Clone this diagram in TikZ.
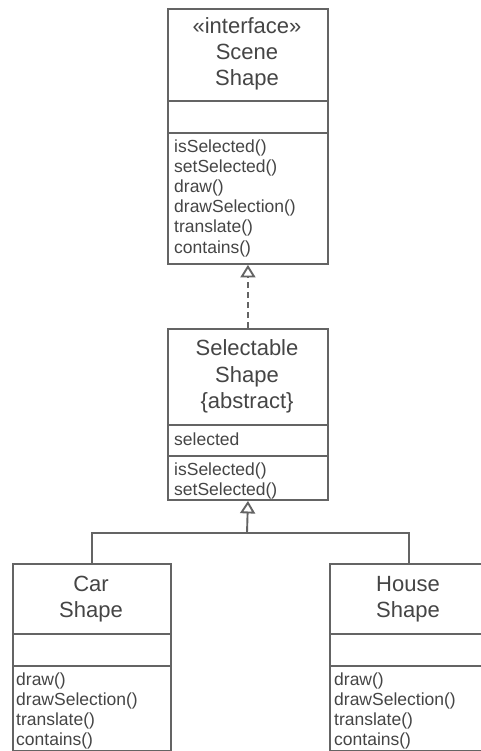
\documentclass[tikz,border=0pt]{standalone}
\usepackage{fontspec}
\setmainfont{Liberation Sans}
\usetikzlibrary{arrows.meta}
\definecolor{ln}{HTML}{646464}
\definecolor{tx}{HTML}{454545}
\begin{document}
\begin{tikzpicture}[x=1pt,y=-1pt,
  comp/.style={draw=ln, line width=1.9pt, rectangle, inner sep=0pt, anchor=north west},
  hd/.style={font=\fontsize{22}{26}\selectfont, text=tx, anchor=base, inner sep=0pt},
  mt/.style={font=\fontsize{17.5}{20}\selectfont, text=tx, anchor=base west, inner sep=0pt},
  conn/.style={draw=ln, line width=1.9pt},
  gen/.style={-{Triangle[open,length=12.5pt,width=15pt,line width=1.9pt]}}]
\clip (0,0) rectangle (481,751);
\fill[white] (0,0) rectangle (481,751);

% Scene Shape interface
\node[comp, minimum width=160pt, minimum height=92pt] (ih) at (167,8) {};
\node[comp, minimum width=160pt, minimum height=32pt] (ia) at (167,100) {};
\node[comp, minimum width=160pt, minimum height=131pt] (im) at (167,132) {};
\node[hd] (ih1) at (247,34) {«interface»};
\node[hd] (ih2) at (247,60) {Scene};
\node[hd] (ih3) at (247,86) {Shape};
\node[mt] (im1) at (174,153) {isSelected()};
\node[mt] (im2) at (174,173) {setSelected()};
\node[mt] (im3) at (174,193) {draw()};
\node[mt] (im4) at (174,213) {drawSelection()};
\node[mt] (im5) at (174,233) {translate()};
\node[mt] (im6) at (174,253) {contains()};

% Selectable Shape
\node[comp, minimum width=160pt, minimum height=96pt] (sh) at (167,328) {};
\node[comp, minimum width=160pt, minimum height=31pt] (sa) at (167,424) {};
\node[comp, minimum width=160pt, minimum height=44pt] (sm) at (167,455) {};
\node[hd] (sh1) at (247,355) {Selectable};
\node[hd] (sh2) at (247,382) {Shape};
\node[hd] (sh3) at (247,408) {\{abstract\}};
\node[mt] (sa1) at (174,445) {selected};
\node[mt] (sm1) at (174,475) {isSelected()};
\node[mt] (sm2) at (174,495) {setSelected()};

% Car Shape
\node[comp, minimum width=158pt, minimum height=70pt] (ch) at (12,563) {};
\node[comp, minimum width=158pt, minimum height=32pt] (ca) at (12,633) {};
\node[comp, minimum width=158pt, minimum height=85pt] (cm) at (12,665) {};
\node[hd] (ch1) at (91,591) {Car};
\node[hd] (ch2) at (91,617) {Shape};
\node[mt] (cm1) at (16,685) {draw()};
\node[mt] (cm2) at (16,705) {drawSelection()};
\node[mt] (cm3) at (16,725) {translate()};
\node[mt] (cm4) at (16,745) {contains()};

% House Shape
\node[comp, minimum width=158pt, minimum height=70pt] (hh) at (329,563) {};
\node[comp, minimum width=158pt, minimum height=32pt] (ha) at (329,633) {};
\node[comp, minimum width=158pt, minimum height=85pt] (hm) at (329,665) {};
\node[hd] (hh1) at (408,591) {House};
\node[hd] (hh2) at (408,617) {Shape};
\node[mt] (hm1) at (334,685) {draw()};
\node[mt] (hm2) at (334,705) {drawSelection()};
\node[mt] (hm3) at (334,725) {translate()};
\node[mt] (hm4) at (334,745) {contains()};

% connectors
\draw[conn, gen, dash pattern=on 6pt off 4pt] (sh.north) -- (im.south);
\coordinate (j) at (247,533);
\draw[conn, gen] (j) -- (sm.south);
\draw[conn] (ch.north) |- (j) -| (hh.north);
\end{tikzpicture}
\end{document}
